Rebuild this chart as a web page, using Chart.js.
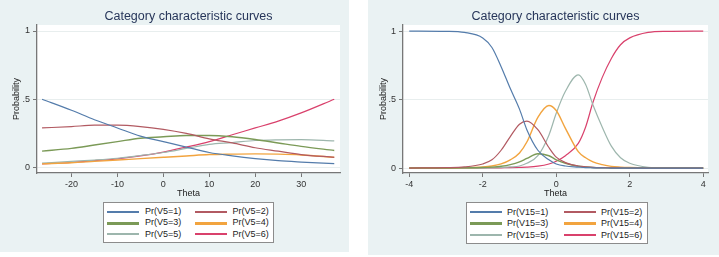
<!DOCTYPE html>
<html>
<head>
<meta charset="utf-8">
<script src="https://cdn.jsdelivr.net/npm/chart.js@4"></script>
<style>
body { margin:0; width:719px; height:257px; position:relative; background:#fff; font-family:"Liberation Sans", Arial, sans-serif; overflow:hidden; }
.panel { position:absolute; background:#eaf2f3; }
.panel canvas { position:absolute; left:0; top:0; }
.legend { position:absolute; background:#fff; border:1px solid #8c8c8c; box-sizing:border-box; }
.item { position:absolute; height:11px; line-height:11px; font-size:9px; color:#222; white-space:nowrap; }
.item .swatch { display:inline-block; width:32px; vertical-align:middle; margin-right:6px; }
</style>
</head>
<body>
<div class="panel" style="left:0;top:0;width:349px;height:252px">
  <canvas id="chartV5" width="349" height="252"></canvas>
  <div class="legend" id="legV5" style="left:103px;top:202px;width:171px;height:41px"></div>
</div>
<div class="panel" style="left:368px;top:0;width:351px;height:255px">
  <canvas id="chartV15" width="351" height="255"></canvas>
  <div class="legend" id="legV15" style="left:98px;top:202px;width:182px;height:42px"></div>
</div>
<script>
// left panel: item V5
var thetaV5 = [-26.4, -20, -15, -10, -5, 0, 5, 10, 15, 20, 25, 30, 37.2];
var v5cat1 = [0.50, 0.42, 0.35, 0.29, 0.23, 0.19, 0.15, 0.11, 0.085, 0.065, 0.05, 0.04, 0.028];
var v5cat2 = [0.29, 0.30, 0.31, 0.31, 0.30, 0.28, 0.25, 0.21, 0.18, 0.145, 0.12, 0.095, 0.075];
var v5cat3 = [0.12, 0.14, 0.165, 0.19, 0.215, 0.225, 0.235, 0.235, 0.225, 0.205, 0.18, 0.155, 0.125];
var v5cat4 = [0.027, 0.035, 0.045, 0.055, 0.065, 0.075, 0.085, 0.095, 0.098, 0.10, 0.098, 0.092, 0.075];
var v5cat5 = [0.032, 0.045, 0.055, 0.068, 0.088, 0.11, 0.14, 0.17, 0.183, 0.198, 0.203, 0.204, 0.195];
var v5cat6 = [0.027, 0.037, 0.05, 0.064, 0.085, 0.113, 0.15, 0.19, 0.24, 0.29, 0.34, 0.40, 0.50];

// right panel: item V15
var thetaV15 = [-4, -3, -2.5, -2, -1.75, -1.5, -1.25, -1, -0.8, -0.5, -0.2, 0, 0.25, 0.6, 0.8, 1, 1.25, 1.5, 1.75, 2, 2.5, 3, 4];
var v15cat1 = [1, 0.998, 0.99, 0.95, 0.88, 0.74, 0.58, 0.43, 0.28, 0.13, 0.06, 0.03, 0.015, 0.007, 0.003, 0.002, 0.001, 0, 0, 0, 0, 0, 0];
var v15cat2 = [0, 0.003, 0.008, 0.03, 0.06, 0.13, 0.23, 0.32, 0.343, 0.28, 0.15, 0.08, 0.04, 0.015, 0.009, 0.005, 0.003, 0.002, 0.001, 0, 0, 0, 0];
var v15cat3 = [0, 0.001, 0.002, 0.004, 0.007, 0.013, 0.025, 0.045, 0.07, 0.105, 0.09, 0.06, 0.035, 0.013, 0.008, 0.004, 0.002, 0.001, 0, 0, 0, 0, 0];
var v15cat4 = [0, 0.001, 0.003, 0.008, 0.015, 0.03, 0.06, 0.11, 0.19, 0.37, 0.457, 0.42, 0.29, 0.12, 0.075, 0.045, 0.025, 0.012, 0.007, 0.004, 0.001, 0, 0];
var v15cat5 = [0, 0, 0, 0.001, 0.002, 0.004, 0.008, 0.015, 0.035, 0.09, 0.24, 0.40, 0.56, 0.68, 0.61, 0.46, 0.30, 0.16, 0.075, 0.035, 0.006, 0.001, 0];
var v15cat6 = [0, 0, 0, 0.001, 0.001, 0.002, 0.003, 0.005, 0.007, 0.014, 0.03, 0.05, 0.09, 0.18, 0.30, 0.48, 0.66, 0.80, 0.90, 0.95, 0.99, 0.998, 1];

var labelsV5 = ['Pr(V5=1)', 'Pr(V5=2)', 'Pr(V5=3)', 'Pr(V5=4)', 'Pr(V5=5)', 'Pr(V5=6)'];
var labelsV15 = ['Pr(V15=1)', 'Pr(V15=2)', 'Pr(V15=3)', 'Pr(V15=4)', 'Pr(V15=5)', 'Pr(V15=6)'];

var xTicksV5 = [-20, -10, 0, 10, 20, 30];
var xTicksV15 = [-4, -2, 0, 2, 4];
var yTicks = [0, 0.5, 1];
var yTickLabels = ['0', '.5', '1'];

// stata s2color-ish, a bit washed out like the screenshot
var colors = ['#547cab', '#b25a62', '#7b9a57', '#f2a43f', '#9db6ad', '#d9416c'];
var widths = [1.2, 1.2, 1.4, 1.4, 1.2, 1.2];
var legendWidths = [2, 2, 3, 3, 2, 2];

var fontFam = '"Liberation Sans", Arial, sans-serif';

var plotBg = {
    id: 'plotBg',
    beforeDraw: function (chart) {
        var a = chart.chartArea;
        var ctx = chart.ctx;
        ctx.save();
        ctx.fillStyle = '#ffffff';
        ctx.fillRect(a.left, a.top, a.right - a.left, a.bottom - a.top);
        ctx.restore();
    }
};

function makeChart(id, theta, series, labels, xTicks, xMin, xMax, yMin, yMax, yWidth, yTitlePad, pad) {
    var datasets = series.map(function (vals, i) {
        return {
            label: labels[i],
            data: vals.map(function (v, j) { return { x: theta[j], y: v }; }),
            borderColor: colors[i],
            borderWidth: widths[i],
            pointRadius: 0,
            fill: false,
            cubicInterpolationMode: 'monotone'
        };
    });
    var ctx = document.getElementById(id).getContext('2d');
    return new Chart(ctx, {
        type: 'line',
        data: { datasets: datasets },
        plugins: [plotBg],
        options: {
            responsive: false,
            animation: false,
            layout: { padding: pad },
            scales: {
                x: {
                    type: 'linear',
                    min: xMin,
                    max: xMax,
                    afterBuildTicks: function (s) { s.ticks = xTicks.map(function (v) { return { value: v }; }); },
                    afterFit: function (s) { s.height = 26; },
                    grid: { drawOnChartArea: false, tickLength: 4, tickColor: '#777', color: '#777', lineWidth: 1 },
                    border: { color: '#777', width: 1.3 },
                    ticks: {
                        autoSkip: false, maxRotation: 0, padding: 2, color: '#333',
                        font: { size: 9, family: fontFam },
                        callback: function (v) { return String(v); }
                    },
                    title: { display: true, text: 'Theta', color: '#222', padding: 0, font: { size: 9, family: fontFam } }
                },
                y: {
                    type: 'linear',
                    min: yMin,
                    max: yMax,
                    afterBuildTicks: function (s) { s.ticks = yTicks.map(function (v) { return { value: v }; }); },
                    afterFit: function (s) { s.width = yWidth; },
                    grid: { color: '#e8eeee', tickColor: '#777', tickLength: 4, lineWidth: 1 },
                    border: { color: '#777', width: 1.3 },
                    ticks: {
                        padding: 3, color: '#333',
                        font: { size: 9, family: fontFam },
                        callback: function (v) { return yTickLabels[yTicks.indexOf(v)]; }
                    },
                    title: { display: true, text: 'Probability', color: '#222', padding: { top: yTitlePad, bottom: 0 }, font: { size: 9, family: fontFam } }
                }
            },
            plugins: {
                legend: { display: false },
                tooltip: { enabled: false },
                title: {
                    display: true,
                    text: 'Category characteristic curves',
                    fullSize: false,
                    color: '#27365a',
                    padding: { top: 9, bottom: 1 },
                    font: { size: 12.5, weight: 'normal', family: fontFam }
                }
            }
        }
    });
}

function buildLegend(chart, elId, x0, colStep, y0, rowStep, gap) {
    var el = document.getElementById(elId);
    chart.data.datasets.forEach(function (ds, i) {
        var col = i % 2, row = Math.floor(i / 2);
        var item = document.createElement('div');
        item.className = 'item';
        item.style.left = (x0 + col * colStep) + 'px';
        item.style.top = (y0 + row * rowStep) + 'px';
        var sw = document.createElement('span');
        sw.className = 'swatch';
        sw.style.height = legendWidths[i] + 'px';
        sw.style.backgroundColor = colors[i];
        sw.style.marginRight = gap + 'px';
        item.appendChild(sw);
        item.appendChild(document.createTextNode(ds.label));
        el.appendChild(item);
    });
}

var chartV5 = makeChart('chartV5', thetaV5, [v5cat1, v5cat2, v5cat3, v5cat4, v5cat5, v5cat6], labelsV5,
    xTicksV5, -27.5, 38.45, -0.04, 1.044, 37, 11, { left: 0, right: 9, top: 0, bottom: 53 });
var chartV15 = makeChart('chartV15', thetaV15, [v15cat1, v15cat2, v15cat3, v15cat4, v15cat5, v15cat6], labelsV15,
    xTicksV15, -4.17, 4.13, -0.036, 1.044, 35, 10, { left: 0, right: 11, top: 0, bottom: 56 });

buildLegend(chartV5, 'legV5', 3, 87.5, 3, 11.4, 6);
buildLegend(chartV15, 'legV15', 3, 94, 3.5, 11.6, 5);
</script>
</body>
</html>
